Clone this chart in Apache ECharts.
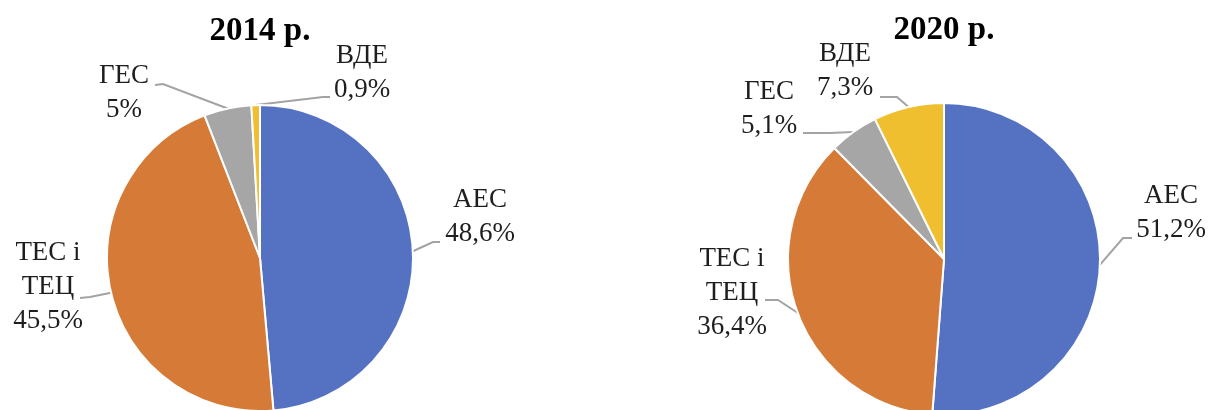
<!DOCTYPE html>
<html lang="uk">
<head>
    <meta charset="UTF-8">
    <title>Структура виробництва електроенергії</title>
    <script src="https://cdn.jsdelivr.net/npm/echarts@6/dist/echarts.min.js"></script>
    <style>
        html, body { margin: 0; padding: 0; background: #fff; }
    </style>
</head>
<body>
<div id="chart" style="width: 1211px;height: 410px"></div>

<script type="text/javascript">
    // дані
    var names = ['АЕС', 'ТЕС і\nТЕЦ', 'ГЕС', 'ВДЕ'];
    var share2014 = [48.6, 45.5, 5, 0.9];
    var share2020 = [51.2, 36.4, 5.1, 7.3];
    var years = ['2014 р.', '2020 р.'];

    var colors = ['#5572c2', '#d67b37', '#a6a6a6', '#efbf2f'];

    // де стоять підписи (центр блоку тексту), по кожній діаграмі
    var labelPos = [
        [[480, 217], [48, 287], [124, 93], [362, 73]],
        [[1171, 213], [732, 293], [769, 109], [845, 71]]
    ];
    // кінець виноски біля тексту: [злам, кінець]
    var leaderEnd = [
        [[[433, 242], [440, 242]], [[90, 297], [80, 298]], [[163, 84], [155, 85]], [[323, 97], [330, 97]]],
        [[[1123, 238], [1132, 238]], [[778, 300], [765, 300]], [[830, 133], [803, 133]], [[897, 97], [880, 97]]]
    ];

    var chart = echarts.init(document.getElementById('chart'));

    function makeData(values) {
        return values.map(function (v, i) {
            return { name: names[i], value: v };
        });
    }

    function makeSeries(idx, values, center, radius) {
        return {
            type: 'pie',
            center: center,
            radius: radius,
            startAngle: 90,
            clockwise: true,
            avoidLabelOverlap: false,
            animation: false,
            data: makeData(values),
            itemStyle: {
                borderColor: '#fff',
                borderWidth: 2
            },
            label: {
                show: true,
                position: 'outside',
                fontFamily: 'Liberation Serif',
                fontSize: 27,
                lineHeight: 34,
                color: '#1e1e1e',
                align: 'center',
                formatter: function (p) {
                    return p.name + '\n' + String(p.value).replace('.', ',') + '%';
                }
            },
            labelLine: {
                show: true,
                length: 10,
                length2: 8,
                lineStyle: { color: '#a3a3a3', width: 2 }
            },
            labelLayout: function (params) {
                var pos = labelPos[idx][params.dataIndex];
                var end = leaderEnd[idx][params.dataIndex];
                var anchor = params.labelLinePoints ? params.labelLinePoints[0] : end[0];
                return {
                    x: pos[0],
                    y: pos[1],
                    align: 'center',
                    verticalAlign: 'middle',
                    labelLinePoints: [anchor, end[0], end[1]]
                };
            }
        };
    }

    chart.setOption({
        color: colors,
        graphic: [
            {
                type: 'text', x: 260, y: 31,
                style: {
                    text: years[0], fill: '#000', align: 'center', verticalAlign: 'middle',
                    font: 'bold 33px "Liberation Serif"'
                }
            },
            {
                type: 'text', x: 944, y: 30,
                style: {
                    text: years[1], fill: '#000', align: 'center', verticalAlign: 'middle',
                    font: 'bold 33px "Liberation Serif"'
                }
            }
        ],
        series: [
            makeSeries(0, share2014, [260, 258], 153),
            makeSeries(1, share2020, [944, 259], 156)
        ]
    });
</script>
</body>
</html>
